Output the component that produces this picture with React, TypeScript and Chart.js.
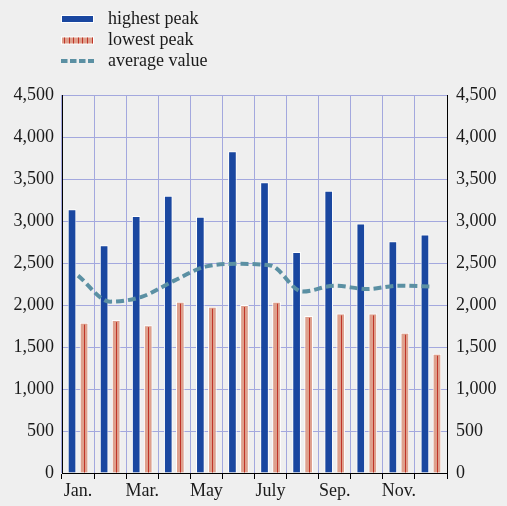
import React, { useEffect, useRef } from "react";
import { Chart, registerables } from "chart.js";

Chart.register(...registerables);

const categories = ["Jan.", "Feb.", "Mar.", "Apr.", "May", "June", "July", "Aug.", "Sep.", "Oct.", "Nov.", "Dec."];
const highestPeak = [3140, 2710, 3060, 3300, 3050, 3830, 3460, 2630, 3360, 2970, 2760, 2840];
const lowestPeak = [1790, 1820, 1760, 2040, 1980, 2000, 2040, 1870, 1900, 1900, 1670, 1420];
const averageValue = [2350, 2040, 2100, 2290, 2460, 2490, 2470, 2160, 2230, 2190, 2230, 2220];
const yTicks = [0, 500, 1000, 1500, 2000, 2500, 3000, 3500, 4000, 4500];
const seriesNames = ["highest peak", "lowest peak", "average value"];

const FONT = "Liberation Serif, 'Times New Roman', serif";
const TEXT = "#1a1a1a";
const GRID = "#a3a8de";
const BLUE = "#1a47a0";
const SALMON = "#dea08d";
const RED = "#bf3428";
const TEAL = "#5b90a3";

const stripePlugin = {
  id: "stripePlugin",
  afterDatasetsDraw(chart: any) {
    const ctx = chart.ctx;
    const meta = chart.getDatasetMeta(1);
    ctx.save();
    ctx.strokeStyle = RED;
    ctx.lineWidth = 1;
    meta.data.forEach((el: any) => {
      const x = Math.round(el.x) + 0.5;
      ctx.beginPath();
      ctx.moveTo(x, el.y + 2);
      ctx.lineTo(x, el.base);
      ctx.stroke();
    });
    ctx.restore();
  },
};

const legendPlugin = {
  id: "customLegend",
  afterDraw(chart: any) {
    const ctx = chart.ctx;
    const ds = chart.data.datasets;
    const x0 = 61;
    const w = 33;
    const rows = [19, 40.5, 61];
    ctx.save();
    ctx.font = `18px ${FONT}`;
    ctx.textBaseline = "middle";
    ctx.fillStyle = TEXT;
    ds.forEach((d: any, i: number) => {
      const y = rows[i];
      if (i === 0) {
        ctx.fillStyle = "#ffffff";
        ctx.fillRect(x0, y - 4, w, 8);
        ctx.fillStyle = d.backgroundColor;
        ctx.fillRect(x0 + 1, y - 3, w - 2, 6);
      } else if (i === 1) {
        ctx.fillStyle = "#ffffff";
        ctx.fillRect(x0, y - 4, w, 8);
        ctx.fillStyle = d.backgroundColor;
        ctx.fillRect(x0 + 1, y - 3, w - 2, 6);
        ctx.strokeStyle = RED;
        ctx.lineWidth = 1;
        for (let k = 0; k < 7; k++) {
          const sx = Math.round(x0 + 3 + k * 4.6) + 0.5;
          ctx.beginPath();
          ctx.moveTo(sx, y - 3);
          ctx.lineTo(sx, y + 3);
          ctx.stroke();
        }
      } else {
        ctx.strokeStyle = d.borderColor;
        ctx.lineWidth = 4;
        ctx.setLineDash([6.5, 2.5]);
        ctx.beginPath();
        ctx.moveTo(x0, y);
        ctx.lineTo(x0 + w, y);
        ctx.stroke();
        ctx.setLineDash([]);
      }
      ctx.fillStyle = TEXT;
      ctx.textAlign = "left";
      ctx.fillText(d.label, 108, y);
    });
    ctx.restore();
  },
};

export default function App() {
  const ref = useRef<HTMLCanvasElement | null>(null);

  useEffect(() => {
    if (!ref.current) return;
    const tickFont = { family: FONT, size: 18 };
    const chart = new Chart(ref.current, {
      type: "bar",
      data: {
        labels: categories,
        datasets: [
          {
            type: "bar",
            label: seriesNames[0],
            data: highestPeak,
            backgroundColor: BLUE,
            borderColor: "#ffffff",
            borderWidth: 1,
            categoryPercentage: 0.75,
            barPercentage: 0.72,
            order: 1,
          },
          {
            type: "bar",
            label: seriesNames[1],
            data: lowestPeak,
            backgroundColor: SALMON,
            borderColor: "#ffffff",
            borderWidth: 1,
            categoryPercentage: 0.75,
            barPercentage: 0.72,
            order: 2,
          },
          {
            type: "line",
            label: seriesNames[2],
            data: averageValue,
            borderColor: TEAL,
            backgroundColor: TEAL,
            borderWidth: 4,
            borderDash: [8, 4],
            pointRadius: 0,
            cubicInterpolationMode: "monotone",
            fill: false,
            order: 0,
          },
        ] as any,
      },
      options: {
        animation: false,
        responsive: true,
        maintainAspectRatio: false,
        layout: { padding: { top: 95, left: 0, right: 0, bottom: 0 } },
        plugins: {
          legend: { display: false },
          tooltip: { enabled: false },
        },
        scales: {
          x: {
            offset: true,
            grid: {
              offset: true,
              color: GRID,
              lineWidth: 1,
              drawTicks: true,
              tickLength: 6,
              tickColor: "#000000",
            },
            border: { display: true, color: "#000000", width: 1 },
            ticks: {
              autoSkip: false,
              maxRotation: 0,
              padding: 1,
              color: TEXT,
              font: tickFont,
              callback: (_v: any, i: number) => (i % 2 === 0 ? categories[i] : ""),
            },
            afterFit: (s: any) => {
              s.height = 33;
            },
          },
          y: {
            position: "left",
            min: 0,
            max: 4500,
            afterBuildTicks: (s: any) => {
              s.ticks = yTicks.map((v) => ({ value: v }));
            },
            grid: { color: GRID, lineWidth: 1, drawTicks: false },
            border: { display: true, color: "#000000", width: 1 },
            ticks: { padding: 8, color: TEXT, font: tickFont },
            afterFit: (s: any) => {
              s.width = 62;
            },
          },
          y2: {
            position: "right",
            min: 0,
            max: 4500,
            afterBuildTicks: (s: any) => {
              s.ticks = yTicks.map((v) => ({ value: v }));
            },
            grid: { drawOnChartArea: false, drawTicks: false },
            border: { display: true, color: "#000000", width: 1 },
            ticks: { padding: 9, color: TEXT, font: tickFont },
            afterFit: (s: any) => {
              s.width = 60;
            },
          },
        },
      } as any,
      plugins: [stripePlugin, legendPlugin],
    });
    return () => chart.destroy();
  }, []);

  return (
    <div
      style={{
        position: "fixed",
        left: 0,
        top: 0,
        width: 507,
        height: 506,
        background: "#efefef",
      }}
    >
      <canvas ref={ref} />
    </div>
  );
}
